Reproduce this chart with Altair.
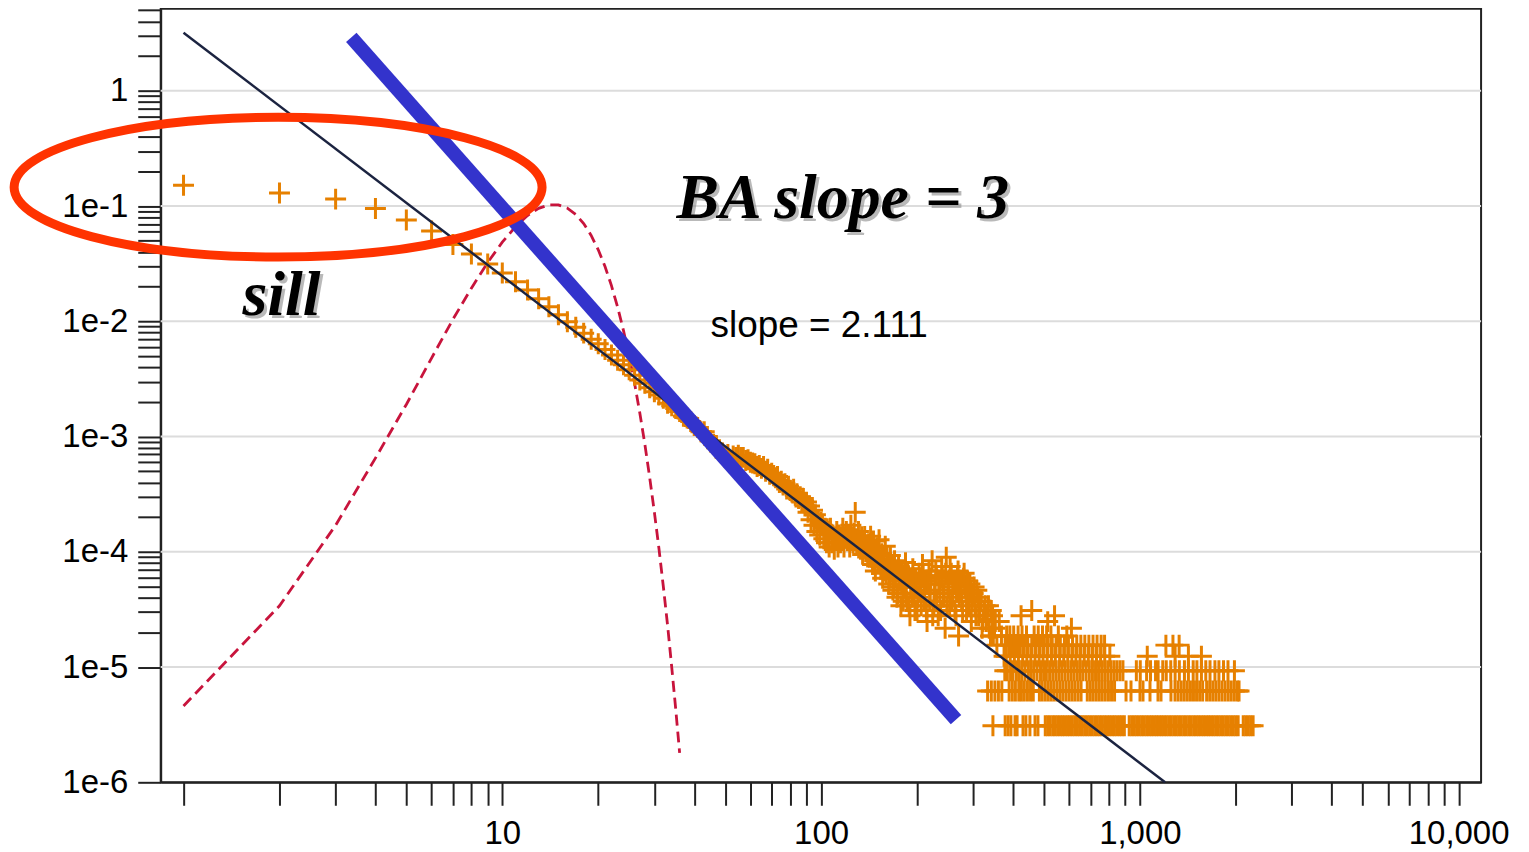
import altair as alt
import pandas as pd

# ---------------- data ----------------
# degree k and fraction of nodes P(k) for the low / middle degrees
head_k = [1, 2, 3, 4, 5, 6, 7, 8, 9, 10, 11, 12, 13, 14, 15, 16, 17, 18, 19, 20,
          21, 22, 23, 24, 25, 26, 27, 28, 29, 30, 31, 32, 33, 34, 35, 36, 37, 38, 39, 40,
          41, 42, 43, 44, 45, 46, 47, 48, 49, 50, 51, 52, 53, 54, 55, 56, 57, 58, 59, 60,
          61, 62, 63, 64, 65, 66, 67, 68, 69, 70, 71, 72, 73, 74, 75, 76, 77, 78, 79, 80,
          81, 82, 83, 84, 85, 86, 87, 88, 89, 90, 91, 92, 93, 94, 95, 96, 97, 98, 99, 100,
          101, 102, 103, 104, 105, 106, 107, 108, 109, 110, 111, 112, 113, 114, 115, 116,
          117, 118, 119, 120, 121, 122, 123, 124, 125, 126, 127, 128, 129, 130, 131, 132,
          133, 134, 135, 136, 137, 138, 139, 140]
head_p = [0.152, 0.130, 0.115, 0.0955, 0.0757, 0.0608, 0.0464, 0.0384, 0.0315, 0.0263,
          0.0221, 0.0187, 0.0157, 0.0134, 0.0114, 0.0099, 0.0089, 0.0079, 0.0070, 0.0064,
          0.0057, 0.0051, 0.0046, 0.0042, 0.0038, 0.0034, 0.0031, 0.0029, 0.00265, 0.00245,
          0.0023, 0.00215, 0.00195, 0.00185, 0.00175, 0.00165, 0.0015, 0.00145, 0.00135, 0.00125,
          0.0012, 0.0011, 0.0011, 0.0010, 0.00092, 0.00086, 0.0008, 0.00075, 0.00072, 0.00066,
          0.0007, 0.00062, 0.00068, 0.00066, 0.00069, 0.00066, 0.00066, 0.00062, 0.00063, 0.0006,
          0.00059, 0.00058, 0.00055, 0.00056, 0.00053, 0.00055, 0.0005, 0.00052, 0.00047, 0.00048,
          0.00046, 0.00044, 0.00045, 0.0004, 0.00041, 0.00038, 0.00039, 0.00035, 0.00037, 0.00034,
          0.00033, 0.00035, 0.00031, 0.00032, 0.00029, 0.0003, 0.00027, 0.00029, 0.00025, 0.00027,
          0.00022, 0.00025, 0.00019, 0.00023, 0.00017, 0.00021, 0.00015, 0.00019, 0.00014, 0.00018,
          1.7e-4, 1.3e-4, 1.6e-4, 1.2e-4, 1.5e-4, 1.1e-4, 1.6e-4, 1.2e-4, 1.4e-4, 1.05e-4,
          1.3e-4, 1.5e-4, 1.1e-4, 1.4e-4, 1.2e-4, 1.3e-4, 1.6e-4, 1.1e-4, 1.35e-4, 1.5e-4,
          1.25e-4, 1.4e-4, 1.1e-4, 1.7e-4, 1.3e-4, 1.2e-4, 1.45e-4, 2.2e-4, 1.3e-4, 1.15e-4,
          1.5e-4, 1.25e-4, 1.05e-4, 1.35e-4, 0.95e-4, 1.2e-4, 1.36e-4, 1.0e-4, 1.15e-4, 0.9e-4]

# high degrees: number of nodes n with degree k (P = n * one_node)
one_node = 3.1e-6  # level of the lowest row (a single node)
cloud_k = [141, 142, 143, 144, 145, 146, 147, 148, 150, 151, 152, 154, 155, 156, 158, 159,
           160, 162, 163, 165, 166, 168, 170, 171, 173, 175, 176, 178, 180, 182, 184, 186,
           188, 190, 192, 194, 196, 198, 200, 203, 205, 208, 210, 213, 215, 218, 220, 223,
           226, 228, 230, 233, 236, 239, 242, 245, 247, 250, 253, 256, 259, 262, 265, 268,
           270, 273, 276, 280, 283, 286, 290, 293, 296, 300, 304, 308, 312, 316, 320, 325,
           330, 335, 340, 345, 350, 356, 362, 368, 375, 424, 458, 514, 540, 610,
           149, 153, 157, 161, 164, 167, 169, 172, 174, 177, 179, 181, 183, 185, 187, 189,
           191, 193, 195, 197, 199, 201, 204, 206, 209, 211, 214, 216, 219, 221, 224, 227,
           229, 231, 234, 237, 240, 243, 246, 248, 251, 254, 257, 260, 263, 266, 269, 271,
           274, 278, 281, 285, 288, 292, 295, 298, 302, 306, 310, 314, 318, 322, 327, 332,
           337, 342, 347, 352]
cloud_n = [38, 29, 44, 33, 25, 40, 30, 22, 35, 27, 41, 24, 31, 19, 28, 36,
           21, 26, 17, 30, 23, 15, 27, 20, 13, 24, 18, 11, 22, 16, 26, 12,
           20, 9, 17, 23, 14, 19, 10, 21, 15, 25, 12, 18, 8, 22, 14, 27,
           11, 17, 20, 9, 15, 24, 13, 7, 29, 18, 11, 21, 14, 17, 9, 20,
           6, 15, 12, 19, 16, 10, 13, 17, 8, 14, 11, 15, 9, 12, 7, 10,
           8, 11, 6, 9, 7, 5, 8, 6, 4, 9, 10, 8, 9, 7,
           32, 26, 22, 30, 19, 25, 16, 22, 14, 20, 17, 12, 19, 14, 21, 11,
           16, 13, 19, 10, 16, 13, 18, 11, 20, 15, 10, 17, 12, 19, 9, 14,
           22, 12, 17, 10, 19, 14, 21, 11, 16, 24, 12, 18, 10, 15, 22, 13,
           17, 10, 21, 14, 18, 11, 15, 12, 16, 9, 13, 10, 12, 8, 11, 9,
           7, 10, 6, 8]

row1_k = [346, 378, 386, 394, 406, 412, 430, 439, 452, 469, 479, 505, 514, 523, 533, 542,
          552, 562, 572, 582, 593, 603, 614, 625, 637, 648, 660, 672, 684, 696, 709, 722,
          735, 748, 761, 775, 789, 803, 818, 832, 847, 863, 878, 894, 926, 943, 960, 977,
          995, 1013, 1031, 1050, 1069, 1088, 1108, 1128, 1148, 1169, 1190, 1211, 1233, 1255,
          1278, 1301, 1324, 1348, 1373, 1397, 1423, 1448, 1475, 1501, 1528, 1556, 1584, 1613,
          1642, 1671, 1701, 1732, 1763, 1795, 1827, 1860, 1894, 1928, 1963, 1998, 2034, 2110,
          2148, 2187, 2226, 2266]
row2_k = [333, 342, 351, 360, 369, 389, 398, 407, 417, 425, 434, 444, 454, 463, 484, 494,
          505, 516, 527, 538, 550, 562, 574, 587, 600, 613, 626, 640, 654, 684, 699, 714,
          730, 746, 762, 779, 797, 815, 833, 905, 938, 1001, 1023, 1076, 1140, 1165, 1252,
          1289, 1318, 1348, 1378, 1409, 1441, 1473, 1506, 1540, 1574, 1620, 1656, 1693, 1731,
          1770, 1810, 1851, 1893, 1935, 1979, 2023, 2047]
row3_k = [377, 384, 393, 400, 410, 418, 426, 436, 447, 456, 465, 476, 488, 499, 509, 521,
          533, 545, 557, 569, 582, 595, 608, 621, 635, 648, 662, 678, 694, 710, 726, 742,
          759, 776, 793, 811, 829, 847, 866, 885, 975, 1003, 1050, 1080, 1120, 1141, 1180,
          1210, 1250, 1290, 1330, 1380, 1420, 1470, 1510, 1560, 1610, 1660, 1720, 1770, 1830,
          1890, 1980]
row4_k = [381, 392, 404, 416, 429, 442, 455, 469, 483, 497, 512, 528, 543, 560, 577, 594,
          612, 630, 649, 669, 689, 709, 731, 753, 776, 805, 1055, 1290, 1420, 1560]
row5_k = [378, 388, 397, 409, 420, 433, 445, 458, 472, 486, 500, 515, 531, 546, 563, 580,
          597, 615, 634, 653, 672, 692, 713, 734, 756, 775, 1207, 1270, 1328]
row6_k = [382, 391, 402, 415, 427, 441, 466, 480, 495, 510, 526, 555, 590]

# fitted power law (slope 2.111): end points of the thin dark line
fit_k = [1.0, 1200]
fit_p = [3.2, 1.0e-6]
# Barabasi-Albert slope 3 reference line (thick blue)
ba_k = [3.36, 265]
ba_p = [2.91, 3.5e-6]
# dashed curve (random-graph degree distribution)
pois_k = [1, 2, 3, 4, 5, 6, 7, 8, 9, 10, 11, 12, 13, 14, 15, 16, 17, 18,
          19, 20, 21, 22, 23, 24, 25, 26, 27, 28, 29, 30, 31, 32, 33, 34, 35, 36]
pois_p = [4.6e-6, 3.4e-5, 1.7e-4, 6.5e-4, 1.9e-3, 4.8e-3, 1.04e-2, 1.94e-2, 3.24e-2,
          4.86e-2, 6.63e-2, 8.29e-2, 9.56e-2, 0.1024, 0.1024, 0.096, 0.0847, 0.0706,
          0.0557, 0.0418, 0.0299, 0.0204, 0.0133, 0.0083, 0.005, 0.0029, 0.0016, 8.6e-4,
          4.4e-4, 2.2e-4, 1.07e-4, 5.0e-5, 2.3e-5, 1.0e-5, 4.3e-6, 1.8e-6]

grid_p = [1, 1e-1, 1e-2, 1e-3, 1e-4, 1e-5]

big_labels = ["BA slope = 3", "sill"]
big_k = [35.2, 1.53]
big_p = [0.0787, 0.01138]
small_label = ["slope = 2.111"]
small_k = [45.0]
small_p = [7.3e-3]

ellipse_k = [1.98]
ellipse_p = [0.146]

x_ticks = [m * 10 ** e for e in range(0, 4) for m in range(1, 10)] + [10000]
y_ticks = [1, 2, 3, 4, 5] + [m * 10.0 ** (-e) for e in range(1, 6) for m in range(1, 10)] + [1e-6]

# ---------------- tables ----------------
ks = list(head_k)
ps = list(head_p)
for k, n in zip(cloud_k, cloud_n):
    ks.append(k)
    ps.append(n * one_node)
for n, row in [(1, row1_k), (2, row2_k), (3, row3_k), (4, row4_k), (5, row5_k), (6, row6_k)]:
    for k in row:
        ks.append(k)
        ps.append(n * one_node)
pts = pd.DataFrame({"k": ks, "p": ps})

X = alt.Scale(type="log", domain=[0.848, 11760], nice=False)
Y = alt.Scale(type="log", domain=[1e-6, 5.15], nice=False)

decade = "abs(log(datum.value)/LN10 - round(log(datum.value)/LN10)) < 0.001"
x_axis = alt.Axis(values=x_ticks, tickSize=23, labelPadding=12, grid=False,
                  labelOverlap=False, labelFlush=False, labelBound=False,
                  labelExpr=f"datum.value >= 10 && {decade} ? format(datum.value, ',') : ''")
y_axis = alt.Axis(values=y_ticks, tickSize=23, labelPadding=10, grid=False,
                  labelOverlap=False, labelFlush=False, labelBound=False,
                  labelExpr=f"{decade} ? (datum.value > 0.5 ? '1' : '1e' + round(log(datum.value)/LN10)) : ''")


def xy():
    return dict(x=alt.X("k:Q", scale=X, axis=x_axis, title=None),
                y=alt.Y("p:Q", scale=Y, axis=y_axis, title=None))


grid = alt.Chart(pd.DataFrame({"p": grid_p})).mark_rule(
    color="#dcdcdc", strokeWidth=2).encode(y=alt.Y("p:Q", scale=Y, axis=y_axis, title=None))

pois = alt.Chart(pd.DataFrame({"k": pois_k, "p": pois_p})).mark_line(
    color="#C8143C", strokeWidth=2.8, strokeDash=[11, 6]).encode(**xy())

cross = "M -1 0 L 1 0 M 0 -1 L 0 1"
points = alt.Chart(pts).mark_point(
    shape=cross, size=441, filled=False, strokeWidth=3, color="#E68000", opacity=1
).encode(**xy())

fit = alt.Chart(pd.DataFrame({"k": fit_k, "p": fit_p})).mark_line(
    color="#1B2340", strokeWidth=2.5).encode(**xy())

ba = alt.Chart(pd.DataFrame({"k": ba_k, "p": ba_p})).mark_line(
    color="#3333CC", strokeWidth=14, strokeCap="butt").encode(**xy())

ell_path = ("M 1 0 C 1 0.1462 0.5523 0.2647 0 0.2647 C -0.5523 0.2647 -1 0.1462 -1 0 "
            "C -1 -0.1462 -0.5523 -0.2647 0 -0.2647 C 0.5523 -0.2647 1 -0.1462 1 0 Z")
ellipse = alt.Chart(pd.DataFrame({"k": ellipse_k, "p": ellipse_p})).mark_point(
    shape=ell_path, size=279841, filled=False, strokeWidth=9, color="#FF3300", opacity=1
).encode(**xy())

big_df = pd.DataFrame({"k": big_k, "p": big_p, "t": big_labels})
shadow = alt.Chart(big_df).mark_text(
    align="left", baseline="alphabetic", font="Liberation Serif", fontSize=64,
    fontStyle="italic", fontWeight="bold", color="#8c8c8c", opacity=0.6, dx=3, dy=3
).encode(text="t:N", **xy())
big = alt.Chart(big_df).mark_text(
    align="left", baseline="alphabetic", font="Liberation Serif", fontSize=64,
    fontStyle="italic", fontWeight="bold", color="black"
).encode(text="t:N", **xy())

small = alt.Chart(pd.DataFrame({"k": small_k, "p": small_p, "t": small_label})).mark_text(
    align="left", baseline="alphabetic", font="Liberation Sans", fontSize=37, color="black"
).encode(text="t:N", **xy())

chart = alt.layer(grid, pois, points, fit, ba, ellipse, shadow, big, small).properties(
    width=1323, height=775,
    autosize=alt.AutoSizeParams(type="none"),
    padding={"left": 153, "top": 0, "right": 40, "bottom": 68},
).configure_view(stroke="#222222", strokeWidth=2).configure_axis(
    labelFont="Liberation Sans", labelFontSize=33, labelColor="black",
    tickColor="#222222", tickWidth=2, domainColor="#222222", domainWidth=2,
)

chart.save("out.html", embed_options={"renderer": "svg", "actions": False})
